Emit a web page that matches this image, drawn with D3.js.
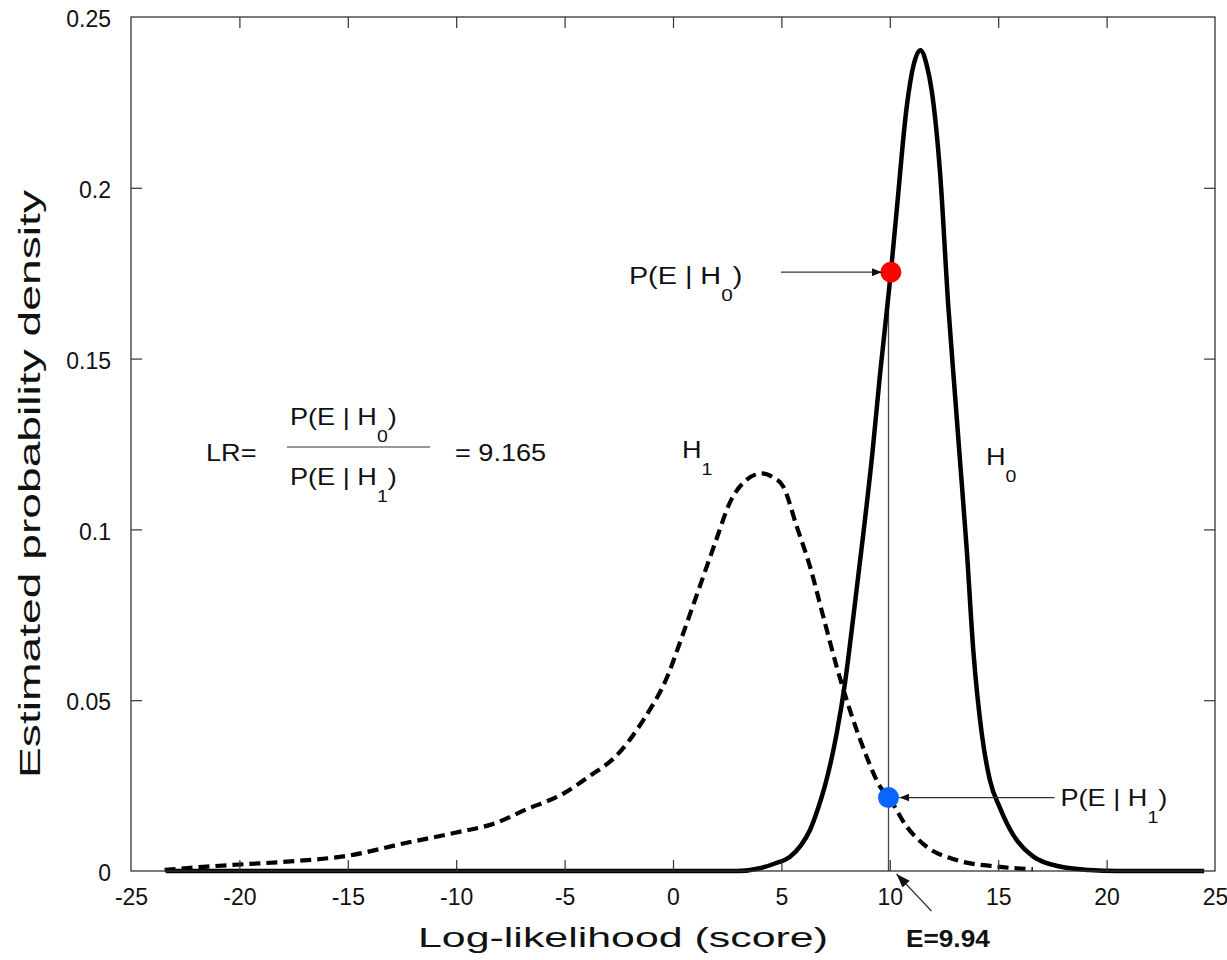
<!DOCTYPE html>
<html><head><meta charset="utf-8">
<script src="https://cdn.jsdelivr.net/npm/d3@7"></script>
<style>
body{margin:0;background:#fff}
text{font-family:"Liberation Sans",Arial,Helvetica,sans-serif;fill:#111}
</style>
</head><body>
<svg id="chart" width="1227" height="960"></svg>
<script>
// ---------------- data ----------------
const xTicks = [-25, -20, -15, -10, -5, 0, 5, 10, 15, 20, 25];
const xTickLabels = ["-25", "-20", "-15", "-10", "-5", "0", "5", "10", "15", "20", "25"];
const yTicks = [0, 0.05, 0.1, 0.15, 0.2, 0.25];
const yTickLabels = ["0", "0.05", "0.1", "0.15", "0.2", "0.25"];

// H0 (solid) density estimate
const h0X = [-23.4, 3.0, 4.0, 4.7, 5.4, 5.9, 6.32, 6.7, 7.01, 7.3, 7.55, 7.93, 8.32, 8.78, 9.2, 9.55, 10.05, 10.32, 10.78, 11.1, 11.41, 11.7, 11.93, 12.32, 12.7, 13.0, 13.24, 13.55, 13.85, 14.24, 14.62, 15.08, 15.7, 16.62, 17.85, 19.2, 20.5, 24.5];
const h0Y = [0, 0, 0.0008, 0.0022, 0.0042, 0.0075, 0.012, 0.0185, 0.025, 0.0325, 0.0403, 0.0549, 0.0745, 0.0988, 0.1225, 0.1455, 0.1753, 0.1935, 0.2237, 0.236, 0.2403, 0.236, 0.2286, 0.2043, 0.1652, 0.14, 0.120, 0.094, 0.0647, 0.0403, 0.0265, 0.0185, 0.0105, 0.0042, 0.0013, 0.0003, 0, 0];

// H1 (dashed) density estimate
const h1X = [-23.45, -21.5, -20, -17.44, -15.07, -12.33, -10.05, -8.2, -6.85, -5.02, -3.8, -2.65, -1.37, -0.27, 0.46, 1.19, 1.92, 2.65, 3.3, 4.1, 4.6, 5.09, 5.71, 6.32, 6.93, 7.55, 8.16, 8.93, 9.55, 9.96, 10.78, 11.7, 13.08, 14.93, 16.6];
const h1Y = [0.0003, 0.0013, 0.0019, 0.0029, 0.0044, 0.0082, 0.0112, 0.014, 0.0178, 0.0228, 0.028, 0.0335, 0.0442, 0.0568, 0.0694, 0.0825, 0.0956, 0.1082, 0.114, 0.1164, 0.1153, 0.1125, 0.1008, 0.0891, 0.0745, 0.0598, 0.0471, 0.0335, 0.0247, 0.0215, 0.013, 0.0071, 0.0032, 0.0013, 0.0005];

const evidenceScore = 9.94;
const evidenceLabel = "E=9.94";
const pointH0 = [10.05, 0.1753];
const pointH1 = [9.94, 0.0215];
const lrValueLabel = "= 9.165";
const xTitle = "Log-likelihood (score)";
const yTitle = "Estimated probability density";

// ---------------- layout ----------------
const W = 1227, H = 960;
const M = {left: 131, top: 17, right: 12, bottom: 89};
const svg = d3.select("#chart");
const x = d3.scaleLinear().domain([-25, 25]).range([M.left, W - M.right]);
const y = d3.scaleLinear().domain([0, 0.25]).range([H - M.bottom, M.top]);

const defs = svg.append("defs");
defs.append("marker").attr("id", "ah")
  .attr("viewBox", "0 0 10 8").attr("refX", 10).attr("refY", 4)
  .attr("markerWidth", 10).attr("markerHeight", 8).attr("markerUnits", "userSpaceOnUse")
  .attr("orient", "auto")
  .append("path").attr("d", "M0,0L10,4L0,8Z").attr("fill", "#111");
defs.append("marker").attr("id", "ahE")
  .attr("viewBox", "0 0 14 10").attr("refX", 14).attr("refY", 5)
  .attr("markerWidth", 14).attr("markerHeight", 10).attr("markerUnits", "userSpaceOnUse")
  .attr("orient", "auto")
  .append("path").attr("d", "M0,0L14,5L0,10Z").attr("fill", "#111");

// text helper with subscripts and horizontal stretch
function label(px, py, parts, opts = {}) {
  const size = opts.size || 24, sx = opts.sx || 1.13;
  const g = svg.append("g").attr("transform", `translate(${px},${py}) scale(${sx},1)`);
  const t = g.append("text").attr("font-size", size)
    .attr("text-anchor", opts.anchor || "start")
    .attr("font-weight", opts.weight || "normal");
  let shift = 0;
  parts.forEach(p => {
    const target = p.sub ? 17 : 0;
    const ts = t.append("tspan").text(p.t).attr("dy", target - shift);
    if (p.sub) ts.attr("font-size", size * 0.72);
    shift = target;
  });
  return t;
}

// evidence vertical line
svg.append("line")
  .attr("x1", x(evidenceScore)).attr("x2", x(evidenceScore))
  .attr("y1", y(0)).attr("y2", y(pointH0[1]))
  .attr("stroke", "#444").attr("stroke-width", 1.3);

// curves
const line = d3.line().x(d => x(d[0])).y(d => y(d[1])).curve(d3.curveMonotoneX);
const h0 = h0X.map((v, i) => [v, h0Y[i]]);
const h1 = h1X.map((v, i) => [v, h1Y[i]]);
svg.append("path").datum(h0).attr("d", line)
  .attr("fill", "none").attr("stroke", "#000").attr("stroke-width", 4.5)
  .attr("stroke-linejoin", "round");
svg.append("path").datum(h1).attr("d", line)
  .attr("fill", "none").attr("stroke", "#000").attr("stroke-width", 4.2)
  .attr("stroke-dasharray", "11,6");

// axes box
const plot = {x0: x(-25), x1: x(25), y0: y(0.25), y1: y(0)};
svg.append("rect").attr("x", plot.x0).attr("y", plot.y0)
  .attr("width", plot.x1 - plot.x0).attr("height", plot.y1 - plot.y0)
  .attr("fill", "none").attr("stroke", "#333").attr("stroke-width", 1.3);

// axes via d3 (ticks pointing inward, mirrored)
const tl = 11;
const axB = svg.append("g").attr("transform", `translate(0,${plot.y1})`)
  .call(d3.axisBottom(x).tickValues(xTicks).tickSize(-tl).tickPadding(tl + 7)
    .tickFormat((d, i) => xTickLabels[i]));
const axT = svg.append("g").attr("transform", `translate(0,${plot.y0})`)
  .call(d3.axisTop(x).tickValues(xTicks).tickSize(-tl).tickFormat(""));
const axL = svg.append("g").attr("transform", `translate(${plot.x0},0)`)
  .call(d3.axisLeft(y).tickValues(yTicks).tickSize(-tl).tickPadding(tl + 9)
    .tickFormat((d, i) => yTickLabels[i]));
const axR = svg.append("g").attr("transform", `translate(${plot.x1},0)`)
  .call(d3.axisRight(y).tickValues(yTicks).tickSize(-tl).tickFormat(""));
[axB, axT, axL, axR].forEach(a => {
  a.select(".domain").remove();
  a.selectAll(".tick line").attr("stroke", "#333").attr("stroke-width", 1.2);
  a.selectAll("text").attr("font-size", 23)
    .attr("font-family", "'Liberation Sans',Arial,sans-serif").attr("fill", "#111");
});
axL.selectAll("text").attr("dy", "0.42em");
// drop mirrored ticks at the corners
axT.selectAll(".tick").filter(d => d === -25 || d === 25).remove();
axR.selectAll(".tick").filter(d => d === 0 || d === 0.25).remove();
axB.selectAll(".tick line").filter(d => d === -25 || d === 25).remove();
axL.selectAll(".tick line").filter(d => d === 0 || d === 0.25).remove();

// points
svg.append("circle").attr("cx", x(pointH0[0])).attr("cy", y(pointH0[1])).attr("r", 10.5).attr("fill", "#ff0000");
svg.append("circle").attr("cx", x(pointH1[0])).attr("cy", y(pointH1[1])).attr("r", 10.5).attr("fill", "#0a64ff");

// arrows
svg.append("line")
  .attr("x1", x(pointH0[0]) - 110).attr("y1", y(pointH0[1]))
  .attr("x2", x(pointH0[0]) - 9).attr("y2", y(pointH0[1]))
  .attr("stroke", "#333").attr("stroke-width", 1.3).attr("marker-end", "url(#ah)");
svg.append("line")
  .attr("x1", x(pointH1[0]) + 166).attr("y1", y(pointH1[1]))
  .attr("x2", x(pointH1[0]) + 11).attr("y2", y(pointH1[1]))
  .attr("stroke", "#333").attr("stroke-width", 1.3).attr("marker-end", "url(#ah)");
svg.append("line")
  .attr("x1", x(evidenceScore) + 43).attr("y1", y(0) + 40)
  .attr("x2", x(evidenceScore) + 8).attr("y2", y(0) + 3)
  .attr("stroke", "#333").attr("stroke-width", 1.2).attr("marker-end", "url(#ahE)");

// annotation labels
label(x(pointH0[0]) - 262, y(pointH0[1]) + 12, [{t: "P(E | H"}, {t: "0", sub: true}, {t: ")"}], {sx: 1.2});
label(x(pointH1[0]) + 172, y(pointH1[1]) + 8, [{t: "P(E | H"}, {t: "1", sub: true}, {t: ")"}]);
label(682, 458, [{t: "H"}, {t: "1", sub: true}]);
label(986, 465, [{t: "H"}, {t: "0", sub: true}]);
label(906, 947, [{t: evidenceLabel}], {weight: "bold", size: 23, sx: 1.14});

// LR formula
label(206, 461, [{t: "LR="}]);
label(290, 425, [{t: "P(E | H"}, {t: "0", sub: true}, {t: ")"}]);
label(290, 485, [{t: "P(E | H"}, {t: "1", sub: true}, {t: ")"}]);
svg.append("line").attr("x1", 287).attr("x2", 430).attr("y1", 447).attr("y2", 447)
  .attr("stroke", "#333").attr("stroke-width", 1.2);
label(455, 461, [{t: lrValueLabel}]);

// axis titles
svg.append("text").attr("x", 623).attr("y", 947)
  .attr("text-anchor", "middle").attr("font-size", 28)
  .attr("textLength", 410).attr("lengthAdjust", "spacingAndGlyphs")
  .text(xTitle);
svg.append("text").attr("transform", "translate(40,484) rotate(-90)")
  .attr("text-anchor", "middle").attr("font-size", 29)
  .attr("textLength", 588).attr("lengthAdjust", "spacingAndGlyphs")
  .text(yTitle);
</script>
</body></html>
